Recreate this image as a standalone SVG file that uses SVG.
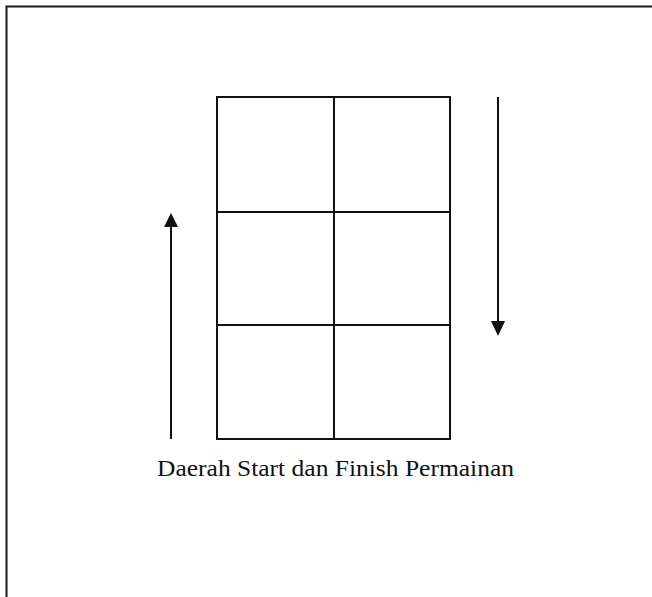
<svg xmlns="http://www.w3.org/2000/svg" width="652" height="597" viewBox="0 0 652 597">
<style>
.ln{stroke:#111;stroke-width:2;fill:none}
.frame{stroke:#1a1a1a;stroke-width:2;fill:none}
.lbl{font-family:"Liberation Serif",serif;font-size:24px;fill:#111}
</style>
<rect width="652" height="597" fill="#fff"/>
<path class="frame" d="M6.5,597 V6.5 H652"/>
<g id="grid">
<rect class="ln" x="217" y="97" width="233" height="342"/>
<line class="ln" x1="334" y1="97" x2="334" y2="439"/>
<line class="ln" x1="217" y1="212" x2="450" y2="212"/>
<line class="ln" x1="217" y1="325" x2="450" y2="325"/>
</g>
<g id="connectors">
<line class="ln" x1="171" y1="439" x2="171" y2="226"/>
<path d="M164,227 L171,213 L178,227 z" fill="#111"/>
<line class="ln" x1="498" y1="97" x2="498" y2="322"/>
<path d="M491,321 L498,336 L505,321 z" fill="#111"/>
</g>
<g id="label">
<text class="lbl" x="157" y="475.5" textLength="357" lengthAdjust="spacingAndGlyphs">Daerah Start dan Finish Permainan</text>
</g>
</svg>
